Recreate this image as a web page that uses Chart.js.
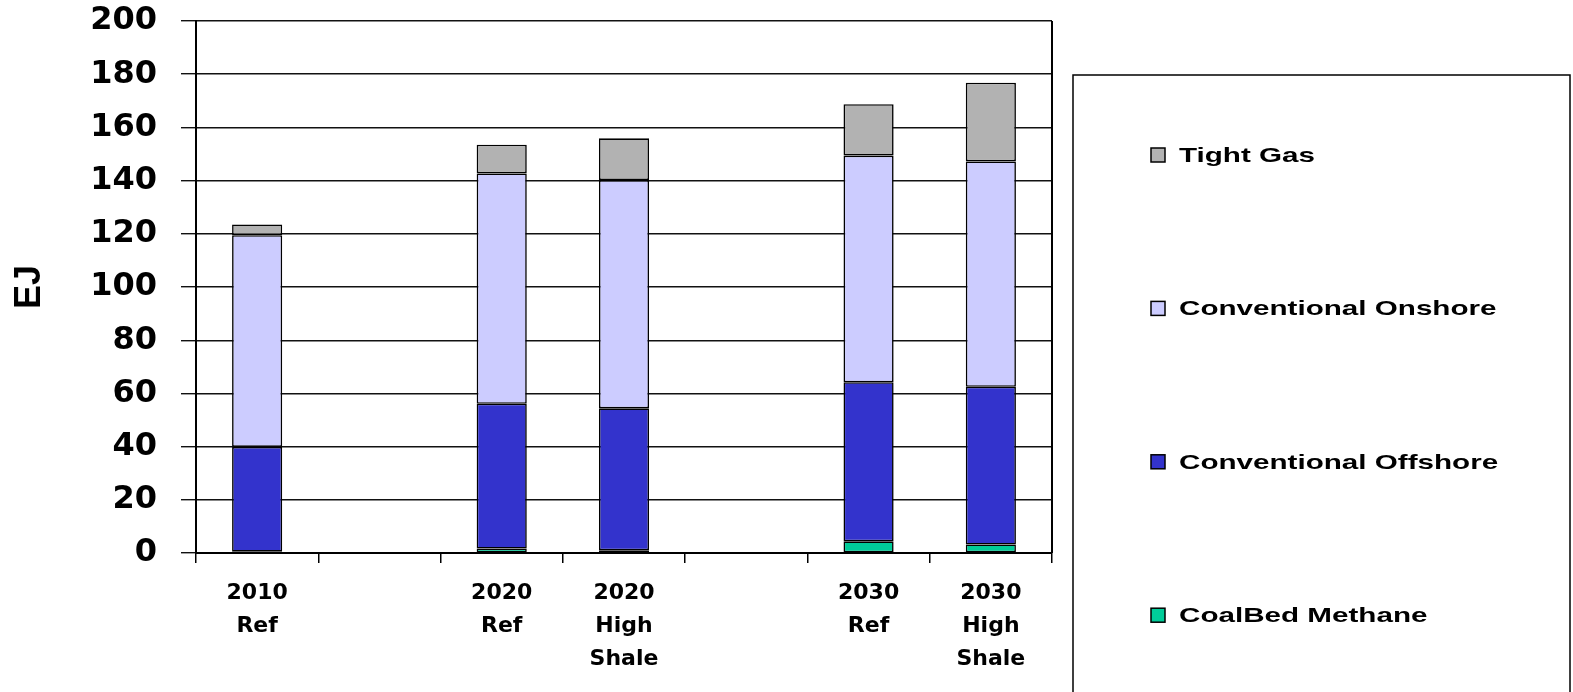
<!DOCTYPE html>
<html>
<head>
<meta charset="utf-8">
<style>
  html, body { margin: 0; padding: 0; background: #fff; }
  #wrap { width: 1573px; height: 692px; }
</style>
<script src="https://cdn.jsdelivr.net/npm/chart.js@4.4.1/dist/chart.umd.min.js"></script>
</head>
<body>
<div id="wrap"><canvas id="c" width="1573" height="692"></canvas></div>
<script>
// Scenario categories (empty slots separate the years)
const categories = [
  ['2010', 'Ref'], '',
  ['2020', 'Ref'], ['2020', 'High', 'Shale'], '',
  ['2030', 'Ref'], ['2030', 'High', 'Shale']
];

// Gas production by source, EJ
const coalBedMethane       = [0.5, null, 1.7, 1.0, null, 4.4, 3.2];
const conventionalOffshore = [39.4, null, 54.4, 53.4, null, 59.8, 59.3];
const conventionalOnshore  = [79.6, null, 86.6, 85.8, null, 85.2, 84.7];
const tightGas             = [4.0, null, 10.8, 15.7, null, 19.3, 29.6];

const yTicks = [0, 20, 40, 60, 80, 100, 120, 140, 160, 180, 200];

const seriesNames  = ['CoalBed Methane', 'Conventional Offshore', 'Conventional Onshore', 'Tight Gas'];
const seriesValues = [coalBedMethane, conventionalOffshore, conventionalOnshore, tightGas];
const seriesColors = ['#00CC99', '#3333CC', '#CCCCFF', '#B2B2B2'];

const datasets = seriesNames.map((name, i) => ({
  label: name,
  data: seriesValues[i],
  backgroundColor: seriesColors[i],
  borderColor: '#000',
  borderWidth: 1.6,
  borderSkipped: false,
  barPercentage: 0.41,
  categoryPercentage: 1.0
}));

// Right-hand frame line of the plot area
const frame = {
  id: 'frame',
  afterDraw(chart) {
    const { ctx, chartArea: a } = chart;
    ctx.save();
    ctx.strokeStyle = '#000';
    ctx.lineWidth = 2;
    ctx.beginPath();
    ctx.moveTo(a.right, a.top);
    ctx.lineTo(a.right, a.bottom);
    ctx.stroke();
    ctx.restore();
  }
};

// Boxed legend, top series first, items spread over the box height
const boxedLegend = {
  id: 'boxedLegend',
  afterDraw(chart) {
    const { ctx } = chart;
    const boxL = 1073, boxT = 75, boxR = 1570, boxB = 700;
    ctx.save();
    ctx.strokeStyle = '#000';
    ctx.lineWidth = 1.5;
    ctx.strokeRect(boxL, boxT, boxR - boxL, boxB - boxT);
    const items = chart.data.datasets.slice().reverse();
    const firstY = 155, step = 153.4;
    items.forEach((ds, i) => {
      const cy = firstY + i * step;
      ctx.fillStyle = ds.backgroundColor;
      ctx.fillRect(1151, cy - 7, 14, 14);
      ctx.strokeStyle = '#000';
      ctx.lineWidth = 1.5;
      ctx.strokeRect(1151, cy - 7, 14, 14);
      ctx.save();
      ctx.translate(1179, cy);
      ctx.scale(1.41, 1);
      ctx.fillStyle = '#000';
      ctx.font = 'bold 21px "Liberation Sans"';
      ctx.textAlign = 'left';
      ctx.textBaseline = 'middle';
      ctx.fillText(ds.label, 0, 1);
      ctx.restore();
    });
    ctx.restore();
  }
};

new Chart(document.getElementById('c'), {
  type: 'bar',
  data: { labels: categories, datasets },
  options: {
    responsive: false,
    animation: false,
    layout: { padding: { left: 0, top: 21, right: 521, bottom: 0 } },
    plugins: {
      legend: { display: false },
      tooltip: { enabled: false }
    },
    scales: {
      x: {
        stacked: true,
        offset: true,
        border: { display: true, color: '#000', width: 2 },
        grid: {
          offset: true,
          drawOnChartArea: false,
          drawTicks: true,
          tickLength: 10,
          color: '#000',
          lineWidth: 1.5
        },
        ticks: {
          color: '#000',
          padding: 14,
          maxRotation: 0,
          autoSkip: false,
          font: { family: 'DejaVu Sans', weight: 'bold', size: 22, lineHeight: 1.5 }
        },
        afterFit(scale) { scale.height = 139; }
      },
      y: {
        stacked: true,
        min: 0,
        max: 200,
        afterBuildTicks(scale) { scale.ticks = yTicks.map(v => ({ value: v })); },
        border: { display: true, color: '#000', width: 2 },
        grid: {
          color: '#111',
          lineWidth: 1.4,
          drawTicks: true,
          tickLength: 15
        },
        ticks: {
          color: '#000',
          padding: 24,
          font: { family: 'DejaVu Sans', weight: 'bold', size: 32 }
        },
        title: {
          display: true,
          text: 'EJ',
          color: '#000',
          padding: { top: 8, bottom: 0 },
          font: { family: 'Liberation Sans', weight: 'bold', size: 36 }
        },
        afterFit(scale) {
          scale.width = 196;
          scale.paddingTop = 0;
          scale.paddingBottom = 0;
        }
      }
    }
  },
  plugins: [frame, boxedLegend]
});
</script>
</body>
</html>
